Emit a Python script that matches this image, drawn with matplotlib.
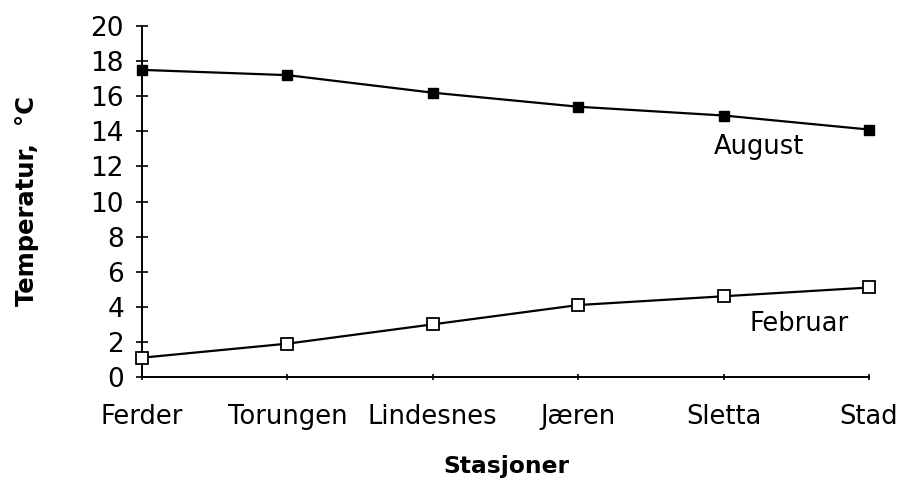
import matplotlib
matplotlib.use("Agg")
import matplotlib.pyplot as plt

stations = ["Ferder", "Torungen", "Lindesnes", "Jæren", "Sletta", "Stad"]
august = [17.5, 17.2, 16.2, 15.4, 14.9, 14.1]
februar = [1.1, 1.9, 3.0, 4.1, 4.6, 5.1]
yticks = [0, 2, 4, 6, 8, 10, 12, 14, 16, 18, 20]

plt.rcParams['font.family'] = ['DejaVu Sans']

fig = plt.figure(figsize=(9.12, 4.84), dpi=100)
ax = fig.add_axes([142/912, 1-377/484, (869-142)/912, (377-26)/484])

x = list(range(len(stations)))
ax.plot(x, august, color='black', lw=1.6, marker='s', ms=7, mfc='black',
        mec='black', clip_on=False, zorder=3)
ax.plot(x, februar, color='black', lw=1.6, marker='s', ms=9, mfc='white',
        mec='black', mew=1.3, clip_on=False, zorder=3)

ax.set_xlim(0, len(stations)-1)
ax.set_ylim(0, 20)
ax.set_xticks(x)
ax.set_xticklabels(stations)
ax.set_yticks(yticks)

for s in ['top', 'right']:
    ax.spines[s].set_visible(False)
for s in ['left', 'bottom']:
    ax.spines[s].set_linewidth(1.4)

ax.tick_params(axis='y', direction='inout', length=8, width=1.2, labelsize=19, pad=9)
ax.tick_params(axis='x', direction='inout', length=5, width=1.2, labelsize=18.5, pad=17)

ax.text(759/912, 1-147/484, "August", transform=fig.transFigure, ha='center',
        va='center', fontsize=18.5)
ax.text(799/912, 1-324/484, "Februar", transform=fig.transFigure, ha='center',
        va='center', fontsize=18.5)

fig.text(506/912, 1-466/484, "Stasjoner", ha='center', va='center',
         fontsize=16.8, fontweight='bold')
fig.text(27/912, 1-201/484, "Temperatur,  °C", ha='center', va='center',
         rotation=90, fontsize=17.5, fontweight='bold')

fig.savefig("out.png", dpi=100)
